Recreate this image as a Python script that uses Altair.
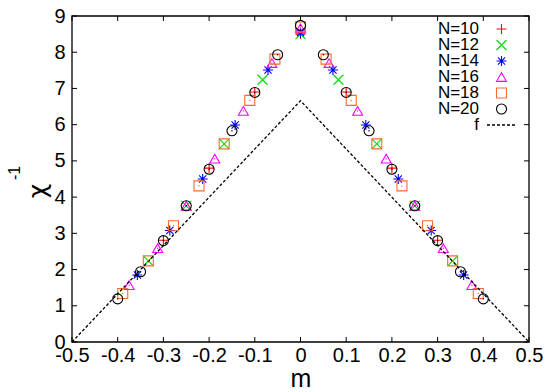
import altair as alt
import pandas as pd

# Series: inverse susceptibility vs magnetisation for several system sizes
labels = ["N=10", "N=12", "N=14", "N=16", "N=18", "N=20"]

m_10 = [-0.3, -0.2, -0.1, 0.0, 0.1, 0.2, 0.3]
chi_10 = [2.81, 4.80, 6.90, 8.50, 6.90, 4.80, 2.81]

m_12 = [-0.333, -0.25, -0.167, -0.083, 0.0, 0.083, 0.167, 0.25, 0.333]
chi_12 = [2.24, 3.76, 5.47, 7.24, 8.50, 7.24, 5.47, 3.76, 2.24]

m_14 = [-0.357, -0.286, -0.214, -0.143, -0.071, 0.0, 0.071, 0.143, 0.214, 0.286, 0.357]
chi_14 = [1.85, 3.08, 4.50, 5.99, 7.51, 8.54, 7.51, 5.99, 4.50, 3.08, 1.85]

m_16 = [-0.375, -0.3125, -0.25, -0.1875, -0.125, -0.0625, 0.0,
        0.0625, 0.125, 0.1875, 0.25, 0.3125, 0.375]
chi_16 = [1.57, 2.59, 3.76, 5.06, 6.38, 7.70, 8.66, 7.70, 6.38, 5.06, 3.76, 2.59, 1.57]

m_18 = [-0.389, -0.333, -0.278, -0.222, -0.167, -0.111, -0.056, 0.0,
        0.056, 0.111, 0.167, 0.222, 0.278, 0.333, 0.389]
chi_18 = [1.34, 2.24, 3.21, 4.31, 5.47, 6.67, 7.81, 8.70,
          7.81, 6.67, 5.47, 4.31, 3.21, 2.24, 1.34]

m_20 = [-0.4, -0.35, -0.3, -0.25, -0.2, -0.15, -0.1, -0.05, 0.0,
        0.05, 0.1, 0.15, 0.2, 0.25, 0.3, 0.35, 0.4]
chi_20 = [1.19, 1.94, 2.80, 3.76, 4.77, 5.83, 6.89, 7.93, 8.74,
          7.93, 6.89, 5.83, 4.77, 3.76, 2.80, 1.94, 1.19]

# Reference curve f
f_m = [-0.5, 0.0, 0.5]
f_val = [0.0, 6.66, 0.0]

x_ticks = [-0.5, -0.4, -0.3, -0.2, -0.1, 0.0, 0.1, 0.2, 0.3, 0.4, 0.5]
y_ticks = [0, 1, 2, 3, 4, 5, 6, 7, 8, 9]

colors = ["#ff0000", "#00dd00", "#0000ff", "#ff00ff", "#ff6a2a", "#000000"]
shapes = [
    "M-1,0L1,0M0,-1L0,1",
    "M-1,-1L1,1M-1,1L1,-1",
    "M-1,0L1,0M0,-1L0,1M-0.72,-0.72L0.72,0.72M-0.72,0.72L0.72,-0.72",
    "triangle-up",
    "square",
    "circle",
]
sizes = [100, 100, 110, 100, 100, 121]

W, H = 457, 326
FONT = "Liberation Sans"

series = [(m_10, chi_10), (m_12, chi_12), (m_14, chi_14),
          (m_16, chi_16), (m_18, chi_18), (m_20, chi_20)]
rows = []
for lab, (ms, cs) in zip(labels, series):
    for m, c in zip(ms, cs):
        rows.append({"m": m, "chi": c, "N": lab})
pts = pd.DataFrame(rows)

xscale = alt.Scale(domain=[-0.5, 0.5], nice=False, zero=False)
yscale = alt.Scale(domain=[0, 9], nice=False, zero=False)
shape_scale = alt.Scale(domain=labels, range=shapes)
color_scale = alt.Scale(domain=labels, range=colors)
size_scale = alt.Scale(domain=labels, range=sizes)

x_axis = alt.Axis(values=x_ticks, ticks=False, domain=False, grid=False,
                  labelFontSize=20, labelFont=FONT, labelColor="black",
                  labelPadding=3, labelOverlap=False, labelFlush=False,
                  labelBound=False,
                  labelExpr="toString(round(datum.value*10)/10)",
                  title="m", titleFont=FONT, titleFontSize=25,
                  titleFontWeight="normal", titleColor="black", titlePadding=1)
y_axis = alt.Axis(values=y_ticks, ticks=False, domain=False, grid=False,
                  labelFontSize=20, labelFont=FONT, labelColor="black",
                  labelPadding=7, labelOverlap=False, labelFlush=False,
                  labelBound=False, title=None)


def X(field):
    return alt.X(field, scale=xscale, axis=x_axis)


def Y(field):
    return alt.Y(field, scale=yscale, axis=y_axis)


points = alt.Chart(pts).mark_point(filled=False, strokeWidth=1.1, opacity=1).encode(
    x=X("m:Q"),
    y=Y("chi:Q"),
    shape=alt.Shape("N:N", scale=shape_scale, legend=None),
    stroke=alt.Stroke("N:N", scale=color_scale, legend=None),
    size=alt.Size("N:N", scale=size_scale, legend=None),
)

# small centre dots of the open symbols
dots = alt.Chart(pts).transform_filter(
    alt.FieldOneOfPredicate(field="N", oneOf=["N=16", "N=18", "N=20"])
).mark_circle(size=2, opacity=1).encode(
    x=X("m:Q"),
    y=Y("chi:Q"),
    color=alt.Color("N:N", scale=color_scale, legend=None),
)

fdf = pd.DataFrame({"m": f_m, "chi": f_val})
fline = alt.Chart(fdf).mark_line(color="black", strokeWidth=1.3, strokeDash=[3, 2]).encode(
    x=X("m:Q"),
    y=Y("chi:Q"),
)

# frame around the plot area
frame = alt.Chart(pd.DataFrame({"k": [0]})).mark_rect(
    fill=None, stroke="black", strokeWidth=1.3
).encode(x=alt.value(0), x2=alt.value(W), y=alt.value(0), y2=alt.value(H))

# inward tick marks on all four sides
xt = pd.DataFrame({"m": x_ticks})
yt = pd.DataFrame({"chi": y_ticks})
xt_bot = alt.Chart(xt).mark_rule(color="black", strokeWidth=1).encode(
    x=X("m:Q"), y=alt.value(H), y2=alt.value(H - 5))
xt_top = alt.Chart(xt).mark_rule(color="black", strokeWidth=1).encode(
    x=X("m:Q"), y=alt.value(0), y2=alt.value(5))
yt_left = alt.Chart(yt).mark_rule(color="black", strokeWidth=1).encode(
    y=Y("chi:Q"), x=alt.value(0), x2=alt.value(5))
yt_right = alt.Chart(yt).mark_rule(color="black", strokeWidth=1).encode(
    y=Y("chi:Q"), x=alt.value(W), x2=alt.value(W - 5))

# key: label on the left, symbol on the right
key = pd.DataFrame({"N": labels, "py": [13 + 16 * i for i in range(len(labels))]})
key_text = alt.Chart(key).mark_text(align="right", baseline="middle", font=FONT,
                                    fontSize=17, color="black").encode(
    x=alt.value(407), y=alt.Y("py:Q", scale=None), text="N:N")
key_sym = alt.Chart(key).mark_point(filled=False, strokeWidth=1.1, opacity=1).encode(
    x=alt.value(429.5), y=alt.Y("py:Q", scale=None),
    shape=alt.Shape("N:N", scale=shape_scale, legend=None),
    stroke=alt.Stroke("N:N", scale=color_scale, legend=None),
    size=alt.Size("N:N", scale=size_scale, legend=None),
)
key_f = pd.DataFrame({"N": ["f"], "py": [13 + 16 * 6]})
key_f_text = alt.Chart(key_f).mark_text(align="right", baseline="middle", font=FONT,
                                        fontSize=17, color="black").encode(
    x=alt.value(407), y=alt.Y("py:Q", scale=None), text="N:N")
key_f_line = alt.Chart(key_f).mark_rule(color="black", strokeWidth=1.3, strokeDash=[3, 2]).encode(
    x=alt.value(415), x2=alt.value(445), y=alt.Y("py:Q", scale=None))

# y-axis title: chi with superscript -1, rotated
ytitle = pd.DataFrame({"t": ["χ"]})
ysup = pd.DataFrame({"t": ["-1"]})
yt_main = alt.Chart(ytitle).mark_text(angle=270, font="DejaVu Sans", fontSize=25, color="black",
                                      align="center", baseline="middle").encode(
    x=alt.value(-34), y=alt.value(175), text="t:N")
yt_sup = alt.Chart(ysup).mark_text(angle=270, font=FONT, fontSize=16, color="black",
                                   align="center", baseline="middle").encode(
    x=alt.value(-57), y=alt.value(157), text="t:N")

chart = alt.layer(
    points, fline, frame, xt_bot, xt_top, yt_left, yt_right, dots,
    key_text, key_sym, key_f_text, key_f_line, yt_main, yt_sup,
).resolve_scale(
    shape="shared", stroke="shared", size="shared"
).properties(
    width=W, height=H,
    autosize=alt.AutoSizeParams(type="none"),
    padding={"left": 72, "top": 16, "right": 20, "bottom": 50},
    background="white",
).configure_view(
    stroke=None
)

chart.save("out.html", embed_options={"renderer": "svg", "actions": False})
